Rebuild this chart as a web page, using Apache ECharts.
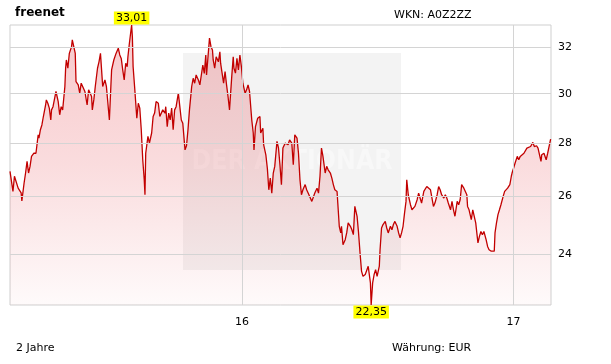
<!DOCTYPE html>
<html>
<head>
<meta charset="utf-8">
<script src="https://cdn.jsdelivr.net/npm/echarts@6/dist/echarts.min.js"></script>
<style>
html,body{margin:0;padding:0;background:#fff;}
#chart{width:611px;height:364px;}
</style>
</head>
<body>
<div id="chart"></div>
<script>
// Day offsets counted from 22 Feb 2015
const days = [0,2,4,6,8,11,13,15,16,19,21,23,25,27,29,32,35,38,39,41,43,45,48,49,51,53,55,56,58,60,62,65,67,69,71,74,75,76,78,80,83,84,86,88,89,92,94,96,101,104,106,110,111,113,115,118,120,122,123,125,128,130,132,134,136,137,140,143,146,148,150,152,154,156,158,159,161,164,165,166,168,169,171,173,175,177,179,181,182,183,186,188,191,193,195,197,200,202,204,206,209,210,212,214,216,218,220,222,224,227,229,231,233,236,238,240,242,245,247,249,251,254,256,258,260,262,264,265,267,269,271,273,274,276,278,281,283,284,286,288,290,292,294,296,299,301,302,304,306,308,310,312,314,317,319,321,323,326,328,329,331,334,337,338,341,342,345,347,349,351,353,355,357,360,362,364,366,368,371,373,375,377,380,382,384,387,389,391,393,395,398,400,402,407,409,411,414,416,418,420,422,425,427,429,432,434,436,438,441,443,444,446,447,449,452,454,456,459,461,463,465,468,470,472,474,476,479,481,483,486,487,489,491,493,495,498,499,501,503,506,508,510,513,515,517,519,522,524,526,528,530,532,534,535,537,540,542,544,546,549,551,553,555,558,560,562,564,567,569,571,573,576,578,580,582,585,587,589,591,594,596,598,600,603,605,607,609,612,614,616,617,619,622,624,626,628,630,631,633,635,637,639,642,644,646,649,651,653,654,656,658,660,662,665,667,669,671,674,676,677,679,681,684,686,688,690,693,695,697,699,702,704,705,707,710,712,714,716,717,720,722,723,725,727,729];
const prices = [26.92,26.87,26.18,26.74,26.80,26.30,26.24,26.13,25.84,26.49,26.86,27.30,26.86,27.11,27.49,27.61,27.61,28.33,28.20,28.53,28.72,29.06,29.53,29.74,29.60,29.40,28.92,29.33,29.46,29.53,30.09,29.67,29.13,29.46,29.33,30.30,31.08,31.44,31.08,31.73,32.03,32.33,32.41,31.73,30.51,30.37,30.02,30.44,30.09,29.53,30.16,29.88,29.33,29.74,30.30,31.08,31.36,31.73,31.66,30.30,30.58,30.30,29.60,28.92,30.30,31.01,31.44,31.73,31.96,31.66,31.51,31.01,30.58,31.30,31.15,31.58,32.18,33.01,32.48,31.15,30.30,30.37,28.99,29.60,29.40,28.53,27.36,26.61,26.06,27.61,28.27,28.00,28.40,29.06,29.20,29.67,29.60,29.06,29.13,29.33,29.20,29.46,28.65,29.20,28.92,29.40,28.53,29.33,29.46,30.02,29.46,28.92,28.79,27.74,27.90,28.53,29.33,30.30,30.65,30.44,30.79,30.58,30.37,30.79,31.22,30.86,31.66,30.79,31.58,32.41,32.03,31.88,31.44,31.08,31.58,31.36,31.80,31.30,30.87,30.44,30.94,30.37,29.88,29.33,30.72,31.58,31.08,30.87,31.51,31.01,31.66,31.15,30.44,30.02,30.16,30.37,30.09,28.92,28.40,27.74,28.65,28.99,29.06,28.40,28.59,27.94,27.55,27.04,26.24,26.67,26.12,26.86,27.11,28.07,27.82,27.17,26.43,27.81,28.00,28.07,27.94,28.13,28.00,27.17,28.33,28.20,27.61,26.61,26.06,26.24,26.43,26.24,26.12,25.82,25.88,26.12,26.30,26.12,26.74,27.81,27.49,26.86,27.11,26.98,26.86,26.67,26.43,26.24,26.18,26.12,24.94,24.71,24.94,24.31,24.48,24.71,25.06,24.94,24.82,24.65,25.64,25.29,24.71,24.03,23.43,23.26,23.32,23.26,23.59,23.05,22.35,23.05,23.32,23.48,23.26,23.59,24.14,24.88,25.00,25.11,24.88,24.71,24.94,24.82,25.00,25.11,24.94,24.71,24.54,24.71,24.94,25.40,25.82,26.61,26.06,25.70,25.52,25.58,25.64,25.88,26.12,26.06,25.76,26.18,26.24,26.36,26.43,26.24,25.94,25.64,25.76,26.06,26.36,26.24,26.06,25.94,26.06,25.94,25.76,25.52,25.82,25.52,25.29,25.82,25.70,25.88,26.43,26.30,26.18,26.06,25.64,25.52,25.17,25.52,25.46,25.06,24.59,24.37,24.59,24.76,24.65,24.76,24.48,24.25,24.14,24.09,24.14,24.09,24.71,25.06,25.35,25.52,25.70,26.00,26.18,26.24,26.30,26.43,26.74,26.86,27.04,27.23,27.49,27.36,27.49,27.42,27.61,27.68,27.81,27.74,27.87,27.94,28.03,27.87,27.90,27.81,27.74,27.30,27.55,27.61,27.55,27.36,27.61,27.68,28.16];
const yTicks = [24, 26, 28, 30, 32];
const xTickDates = [[2016, 0, 1], [2017, 0, 1]];
const xTickLabels = ['16', '17'];

const t0 = new Date(2015, 1, 22).getTime();
const DAY = 86400000;
const seriesData = days.map((d, i) => [t0 + d * DAY, prices[i]]);
const fmt = v => v.toFixed(2).replace('.', ',');
const FONT = 'DejaVu Sans';

const chart = echarts.init(document.getElementById('chart'), null, {renderer: 'canvas'});
chart.setOption({
  animation: false,
  backgroundColor: '#ffffff',
  textStyle: {fontFamily: FONT},
  title: [
    {text: 'freenet', left: 10, top: 2, textStyle: {fontFamily: FONT, fontSize: 12, fontWeight: 'bold', color: '#000'}},
    {text: 'WKN: A0Z2ZZ', left: 389, top: 5, textStyle: {fontFamily: FONT, fontSize: 11, fontWeight: 'normal', color: '#000'}},
    {text: '2 Jahre', left: 11, top: 338, textStyle: {fontFamily: FONT, fontSize: 11, fontWeight: 'normal', color: '#000'}},
    {text: 'Währung: EUR', left: 387, top: 338, textStyle: {fontFamily: FONT, fontSize: 11, fontWeight: 'normal', color: '#000'}}
  ],
  graphic: [
    {type: 'rect', shape: {x: 183, y: 53, width: 218, height: 217}, style: {fill: '#f3f3f3'}, z: 0, silent: true},
    {type: 'text', x: 292, y: 162, scaleX: 0.88, style: {text: 'DER AKTIONÄR', font: 'bold 27px "DejaVu Sans"', fill: '#ffffff', opacity: 0.4, textAlign: 'center', textVerticalAlign: 'middle'}, z: 0, silent: true}
  ],
  grid: {left: 10, right: 60, top: 25, bottom: 59, show: true, borderColor: '#cfcfcf', borderWidth: 1, backgroundColor: 'transparent'},
  xAxis: {
    type: 'time',
    min: t0,
    max: t0 + 729.5 * DAY,
    axisLine: {show: false}, axisTick: {show: false}, axisLabel: {show: false}, splitLine: {show: false}
  },
  yAxis: {
    type: 'log',
    logBase: 10,
    min: 22.35,
    max: 33.01,
    position: 'right',
    axisLine: {show: false}, axisTick: {show: false}, axisLabel: {show: false}, splitLine: {show: false}
  },
  series: [{
    type: 'line',
    data: seriesData,
    showSymbol: false,
    symbol: 'none',
    lineStyle: {color: '#c20000', width: 1.3},
    areaStyle: {
      color: new echarts.graphic.LinearGradient(0, 25, 0, 305, [
        {offset: 0, color: 'rgba(225,40,50,0.36)'},
        {offset: 0.5, color: 'rgba(225,40,50,0.23)'},
        {offset: 1, color: 'rgba(225,40,50,0.03)'}
      ], true)
    },
    z: 3,
    markLine: {
      silent: true,
      symbol: ['none', 'none'],
      lineStyle: {color: '#d4d4d4', type: 'solid', width: 1},
      label: {show: true, position: 'end', distance: 7, color: '#000', fontFamily: FONT, fontSize: 11, formatter: p => String(p.value)},
      data: yTicks.map(v => ({yAxis: v})).concat(xTickDates.map((d, i) => ({
        xAxis: new Date(d[0], d[1], d[2]).getTime(),
        label: {position: 'start', distance: 12, formatter: xTickLabels[i]}
      })))
    },
    markPoint: {
      symbol: 'rect',
      symbolSize: 1,
      itemStyle: {color: 'rgba(0,0,0,0)'},
      label: {show: true, color: '#000', fontFamily: FONT, fontSize: 11, backgroundColor: '#ffff00', padding: [1, 2, 0, 2], lineHeight: 12, formatter: p => fmt(p.value)},
      data: [
        {type: 'max', label: {position: 'top', distance: 0}},
        {type: 'min', label: {position: 'bottom', distance: 0}}
      ]
    }
  }]
});
</script>
</body>
</html>
